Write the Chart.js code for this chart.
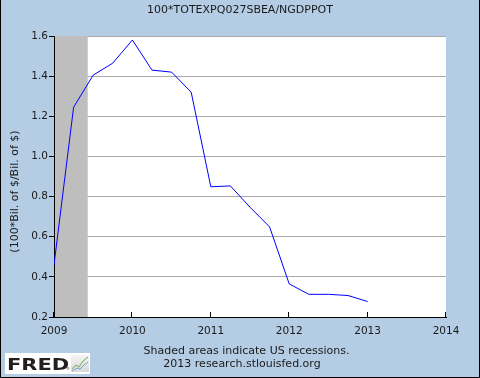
<!DOCTYPE html>
<html><head><meta charset="utf-8">
<script src="https://cdn.jsdelivr.net/npm/chart.js@4/dist/chart.umd.min.js"></script>
<style>html,body{margin:0;padding:0;background:#b4cde4;}canvas{display:block;}</style>
</head><body>
<canvas id="c" width="480" height="378"></canvas>
<script>
const chartTitle = '100*TOTEXPQ027SBEA/NGDPPOT';
const yAxisLabel = '(100*Bil. of $/Bil. of $)';
const footerLines = ['Shaded areas indicate US recessions.', '2013 research.stlouisfed.org'];
const quarters = ['2009-01-01','2009-04-01','2009-07-01','2009-10-01',
                  '2010-01-01','2010-04-01','2010-07-01','2010-10-01',
                  '2011-01-01','2011-04-01','2011-07-01','2011-10-01',
                  '2012-01-01','2012-04-01','2012-07-01','2012-10-01',
                  '2013-01-01'];
const values = [0.46, 1.245, 1.405, 1.465,
                1.58, 1.43, 1.42, 1.32,
                0.849, 0.853, 0.747, 0.649,
                0.365, 0.313, 0.313, 0.307,
                0.277];
const xTickYears = [2009, 2010, 2011, 2012, 2013, 2014];
const yTickValues = [0.2, 0.4, 0.6, 0.8, 1.0, 1.2, 1.4, 1.6];
const recession = [2007.92, 2009.43];

function toYear(s) {
  const p = s.split('-');
  return +p[0] + (+p[1] - 1) / 12;
}
const points = quarters.map((q, i) => ({x: toYear(q), y: values[i]}));

const FONT = '"DejaVu Sans", Verdana, sans-serif';

const decor = {
  id: 'decor',
  beforeDraw(chart) {
    const {ctx, chartArea: a} = chart;
    ctx.save();
    ctx.fillStyle = '#b4cde4';
    ctx.fillRect(0, 0, chart.width, chart.height);
    ctx.fillStyle = '#ffffff';
    ctx.fillRect(a.left, a.top, a.right - a.left, a.bottom - a.top);
    ctx.restore();
  },
  beforeDatasetsDraw(chart) {
    const {ctx, chartArea: a, scales: {x}} = chart;
    const x0 = Math.max(x.getPixelForValue(recession[0]), a.left + 1);
    const x1 = Math.min(x.getPixelForValue(recession[1]), a.right);
    ctx.save();
    ctx.fillStyle = '#bebebe';
    ctx.fillRect(x0, a.top, x1 - x0, a.bottom - a.top);
    ctx.restore();
  },
  afterDraw(chart) {
    const {ctx, chartArea: a, scales: {x}} = chart;
    ctx.save();
    ctx.strokeStyle = '#000';
    ctx.lineWidth = 1;
    xTickYears.forEach(v => {
      const px = Math.round(x.getPixelForValue(v)) - 0.5;
      ctx.beginPath();
      ctx.moveTo(px, a.bottom);
      ctx.lineTo(px, a.bottom - 5);
      ctx.stroke();
    });
    ctx.fillStyle = '#1a1a1a';
    ctx.textAlign = 'center';
    ctx.textBaseline = 'middle';
    ctx.font = '11px ' + FONT;
    ctx.fillText(chartTitle, 240, 10.5);
    ctx.fillText(footerLines[0], 246.5, 351.5);
    ctx.fillText(footerLines[1], 242, 364.5);
    ctx.save();
    ctx.translate(15.5, 191.5);
    ctx.rotate(-Math.PI / 2);
    ctx.fillText(yAxisLabel, 0, 0);
    ctx.restore();
    ctx.fillStyle = '#ffffff';
    ctx.fillRect(5, 353, 85, 21);
    ctx.save();
    ctx.translate(7, 369.5);
    ctx.scale(1.4, 1);
    ctx.textAlign = 'left';
    ctx.textBaseline = 'alphabetic';
    ctx.fillStyle = '#231f20';
    ctx.font = 'bold 15px ' + FONT;
    ctx.fillText('FRED', 0, 0);
    ctx.restore();
    ctx.fillStyle = '#444';
    ctx.font = '4px ' + FONT;
    ctx.textAlign = 'left';
    ctx.fillText('®', 66, 369);
    const g = ctx.createLinearGradient(0, 355, 0, 372);
    g.addColorStop(0, '#f4f4f4');
    g.addColorStop(1, '#d8d8d8');
    ctx.fillStyle = g;
    ctx.fillRect(71, 355, 18, 17);
    ctx.lineWidth = 1;
    ctx.strokeStyle = '#6fae4a';
    ctx.beginPath();
    ctx.moveTo(72, 369); ctx.lineTo(76, 365); ctx.lineTo(79, 367); ctx.lineTo(83, 361); ctx.lineTo(88, 357);
    ctx.stroke();
    ctx.strokeStyle = '#7b9fd0';
    ctx.beginPath();
    ctx.moveTo(72, 371); ctx.lineTo(77, 368); ctx.lineTo(80, 369); ctx.lineTo(84, 365); ctx.lineTo(88, 362);
    ctx.stroke();
    ctx.strokeStyle = '#000';
    ctx.beginPath();
    ctx.moveTo(0.5, 0); ctx.lineTo(0.5, 377.5); ctx.lineTo(479.5, 377.5); ctx.lineTo(479.5, 0);
    ctx.stroke();
    ctx.restore();
  }
};

new Chart(document.getElementById('c'), {
  type: 'line',
  data: {
    datasets: [{
      data: points,
      borderColor: '#0000ff',
      borderWidth: 1,
      pointRadius: 0,
      tension: 0,
      fill: false
    }]
  },
  options: {
    responsive: false,
    animation: false,
    devicePixelRatio: 1,
    layout: {padding: {left: 0, top: 36, right: 34, bottom: 0}},
    plugins: {legend: {display: false}, title: {display: false}, tooltip: {enabled: false}},
    scales: {
      x: {
        type: 'linear',
        min: 2009, max: 2014,
        afterFit(s) { s.height = 61; },
        afterBuildTicks(s) { s.ticks = xTickYears.map(v => ({value: v})); },
        ticks: {
          color: '#1a1a1a', padding: 8, maxRotation: 0, autoSkip: false,
          font: {family: FONT, size: 10.5},
          callback: v => String(v)
        },
        grid: {display: false, drawTicks: false, tickLength: 0},
        border: {display: true, color: '#000', width: 1}
      },
      y: {
        min: 0.2, max: 1.6,
        afterFit(s) { s.width = 54; },
        afterBuildTicks(s) { s.ticks = yTickValues.map(v => ({value: v})); },
        ticks: {
          color: '#1a1a1a', padding: 1, autoSkip: false,
          font: {family: FONT, size: 10.5},
          callback: v => v.toFixed(1)
        },
        grid: {color: '#aaaaaa', lineWidth: 1, drawTicks: true, tickLength: 5, tickColor: '#000'},
        border: {display: true, color: '#000', width: 1}
      }
    }
  },
  plugins: [decor]
});
</script>
</body></html>
